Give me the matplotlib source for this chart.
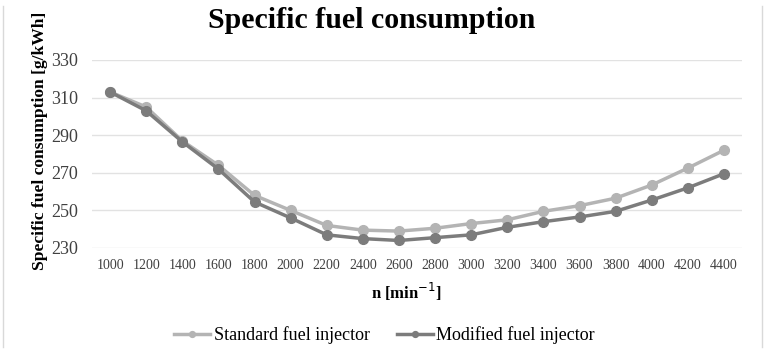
import matplotlib
matplotlib.use('Agg')
import matplotlib.pyplot as plt
from matplotlib.lines import Line2D

# engine speed [min^-1]
speeds = ['1000', '1200', '1400', '1600', '1800', '2000', '2200', '2400', '2600',
          '2800', '3000', '3200', '3400', '3600', '3800', '4000', '4200', '4400']
standard = [313, 305, 287, 274, 258, 250, 242, 239.5, 239, 240.5, 243, 245,
            249.5, 252.5, 256.5, 263.5, 272.5, 282]
modified = [313, 303, 286.5, 272, 254.5, 246, 237, 235, 234, 235.5, 237, 241,
            244, 246.5, 249.5, 255.5, 262, 269.5]
yticks = [230, 250, 270, 290, 310, 330]

plt.rcParams['font.family'] = ['Liberation Serif', 'DejaVu Serif']

W, H = 773, 364
fig = plt.figure(figsize=(W / 100, H / 100), dpi=100)
ax = fig.add_axes([92 / W, 1 - 248 / H, 650 / W, 188 / H])

x = list(range(len(speeds)))
ax.plot(x, standard, color='#b4b4b4', lw=2.5, marker='o', ms=7,
        label='Standard fuel injector', zorder=3)
ax.plot(x, modified, color='#7c7c7c', lw=2.5, marker='o', ms=7,
        label='Modified fuel injector', zorder=4)

ax.set_xlim(-0.5, len(speeds) - 0.5)
ax.set_ylim(230, 330)
ax.set_yticks(yticks)
ax.set_xticks(x)
ax.set_xticklabels(speeds)
ax.grid(axis='y', color='#e2e2e2', lw=1)
ax.set_axisbelow(True)
for s in ax.spines.values():
    s.set_visible(False)
ax.tick_params(length=0, labelsize=10, colors='#404040')
ax.tick_params(axis='x', pad=8)
ax.tick_params(axis='y', labelsize=13, pad=10)

ax.set_xlabel('n [min$^{-1}$]', fontsize=12, fontweight='bold', labelpad=6)
ax.xaxis.label.set_x(0.483)
fig.text(40 / W, 1 - 141 / H, 'Specific fuel consumption [g/kWh]', rotation=90,
         ha='center', va='center', fontsize=12.6, fontweight='bold')

fig.text(372 / W, 1 - 20 / H, 'Specific fuel consumption', ha='center', va='center',
         fontsize=21.5, fontweight='bold')

ax.legend(loc='center', bbox_to_anchor=(0.45, -0.463), ncol=2, frameon=False,
          fontsize=13, handlelength=2.0, handletextpad=0.2, columnspacing=1.5,
          markerscale=0.6)

# chart frame (only the side edges are visible in the reference)
for px in (3, 762):
    fig.add_artist(Line2D([px / W, px / W], [1 - 6 / H, 1 - 347 / H],
                          transform=fig.transFigure, color='#d9d9d9', lw=1))

fig.savefig('out.png', dpi=100)
